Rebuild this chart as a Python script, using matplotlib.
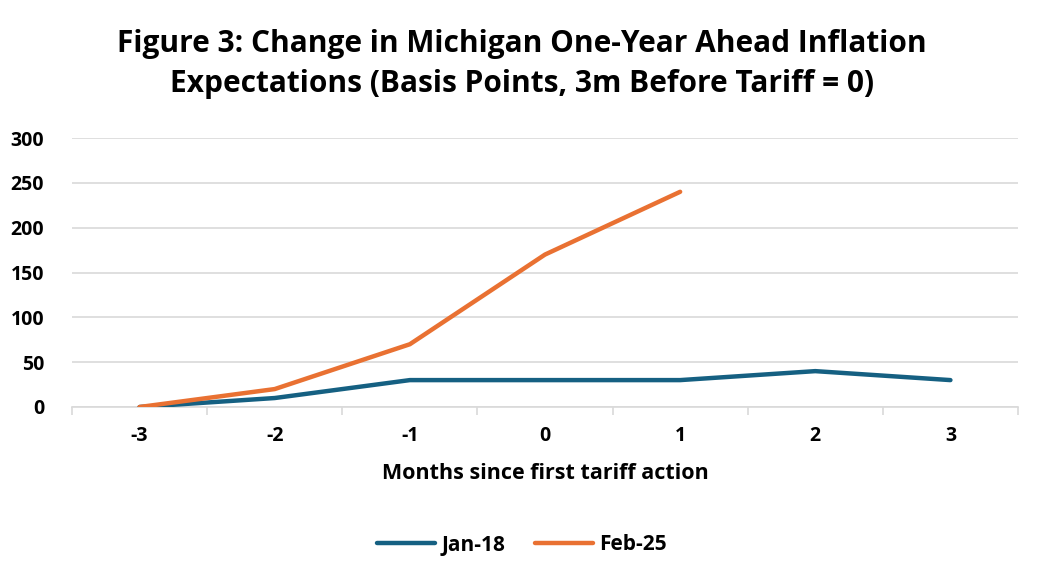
import matplotlib.pyplot as plt

# ── data ───────────────────────────────────────────────────────────────────
months = ["-3", "-2", "-1", "0", "1", "2", "3"]
jan18 = [0, 10, 30, 30, 30, 40, 30]
feb25 = [0, 20, 70, 170, 240]

C_BLUE = "#156082"
C_ORANGE = "#E97132"
C_GRID = "#D9D9D9"

plt.rcParams["font.family"] = ["Open Sans", "DejaVu Sans"]
plt.rcParams["font.weight"] = "bold"

fig = plt.figure(figsize=(10.44, 5.79), dpi=100)
ax = fig.add_axes([72 / 1044, 1 - 407 / 579, 946 / 1044, 269 / 579])

x = list(range(len(months)))
ax.plot(x, jan18, color=C_BLUE, lw=3.2, solid_capstyle="round", label="Jan-18", zorder=3)
ax.plot(x[:len(feb25)], feb25, color=C_ORANGE, lw=3.2, solid_capstyle="round",
        label="Feb-25", zorder=4)

ax.set_xlim(-0.5, len(months) - 0.5)
ax.set_ylim(0, 300)
ax.set_yticks(range(0, 301, 50))
ax.tick_params(axis="y", length=0, labelsize=14, pad=20)
ax.set_xticks(x)
ax.set_xticklabels(months)
ax.tick_params(axis="x", which="major", length=0, labelsize=14, pad=14)
ax.set_xticks([i - 0.5 for i in range(len(months) + 1)], minor=True)
ax.tick_params(axis="x", which="minor", length=6, color=C_GRID, width=1.2)
for lab in ax.get_xticklabels() + ax.get_yticklabels():
    lab.set_fontweight("bold")

ax.grid(axis="y", color=C_GRID, lw=1.2)
ax.set_axisbelow(True)
for s in ["top", "right", "left"]:
    ax.spines[s].set_visible(False)
ax.spines["bottom"].set_color(C_GRID)
ax.spines["bottom"].set_linewidth(1.2)

ax.set_xlabel("Months since first tariff action", fontsize=15.5, fontweight="bold", labelpad=12)

fig.text(0.5, 1 - 64 / 579,
         "Figure 3: Change in Michigan One-Year Ahead Inflation\nExpectations (Basis Points, 3m Before Tariff = 0)",
         ha="center", va="center", fontsize=21.5, fontweight="bold", linespacing=1.45)

fig.legend(loc="center", bbox_to_anchor=(0.5, 1 - 545 / 579), ncol=2, frameon=False,
           handlelength=2.8, columnspacing=1.4, handletextpad=0.3,
           prop={"weight": "bold", "size": 15})

fig.savefig("out.png", dpi=100, facecolor="white")
